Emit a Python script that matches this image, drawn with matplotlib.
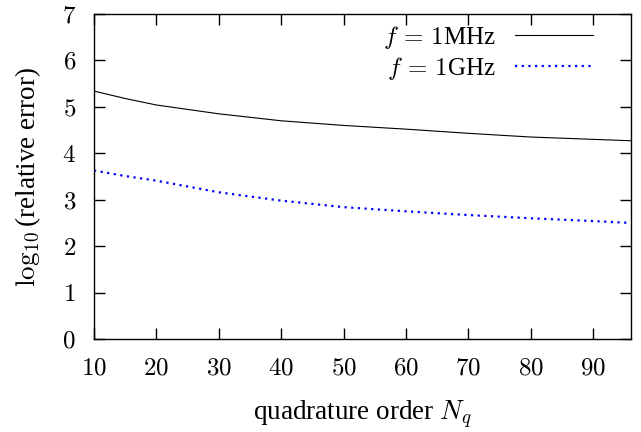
import matplotlib
matplotlib.use("Agg")
import matplotlib.pyplot as plt

plt.rcParams['mathtext.fontset'] = 'cm'
plt.rcParams['font.family'] = ['Liberation Serif', 'DejaVu Serif']
plt.rcParams['axes.formatter.use_mathtext'] = True

# Data
nq = [10, 15, 20, 30, 40, 50, 60, 70, 80, 90, 96]
err_1mhz = [5.34, 5.18, 5.04, 4.85, 4.70, 4.60, 4.52, 4.43, 4.35, 4.30, 4.27]
err_1ghz = [3.63, 3.51, 3.41, 3.16, 2.98, 2.84, 2.75, 2.67, 2.60, 2.54, 2.50]
xticks = [10, 20, 30, 40, 50, 60, 70, 80, 90]
yticks = [0, 1, 2, 3, 4, 5, 6, 7]
labels = [r"$f\,=\,1$MHz", r"$f\,=\,1$GHz"]

FS = 18
LFS = 19.5

fig = plt.figure(figsize=(6.41, 4.32), dpi=100)
ax = fig.add_axes([94/641, 1 - 339/432, (630.7-94)/641, (339-14)/432])

ax.plot(nq, err_1mhz, color='black', lw=0.8, label=labels[0])
ax.plot(nq, err_1ghz, color=(0, 0, 1), lw=1.6, linestyle=(0, (1, 2)), label=labels[1])

ax.set_xlim(10, 96)
ax.set_ylim(0, 7)
ax.set_xticks(xticks)
ax.set_yticks(yticks)
ax.tick_params(direction='in', length=8, width=1.0, top=True, right=True,
               labelsize=FS)
ax.tick_params(axis='x', pad=13.5)
ax.tick_params(axis='y', pad=13)
for lab in ax.get_xticklabels() + ax.get_yticklabels():
    lab.set_fontfamily('cmr10')
for s in ax.spines.values():
    s.set_linewidth(1.0)

ax.set_xlabel(r"quadrature order $N_q$", fontsize=LFS)
ax.xaxis.set_label_coords(0.5, -(420 - 339) / 325, transform=ax.transAxes)
ax.xaxis.label.set_va('baseline')
ax.set_ylabel(r"$\log_{10}$(relative error)", fontsize=LFS)
ax.yaxis.set_label_coords(-(94 - 43) / 536.7, 0.5)

leg = ax.legend(loc='upper right', bbox_to_anchor=((593 - 94) / 536.7, (339 - 24) / 325),
                frameon=False, markerfirst=False, fontsize=FS, handlelength=3.1,
                handletextpad=0.8, borderpad=0, borderaxespad=0, labelspacing=0.15)

fig.savefig("out.png", dpi=100)
